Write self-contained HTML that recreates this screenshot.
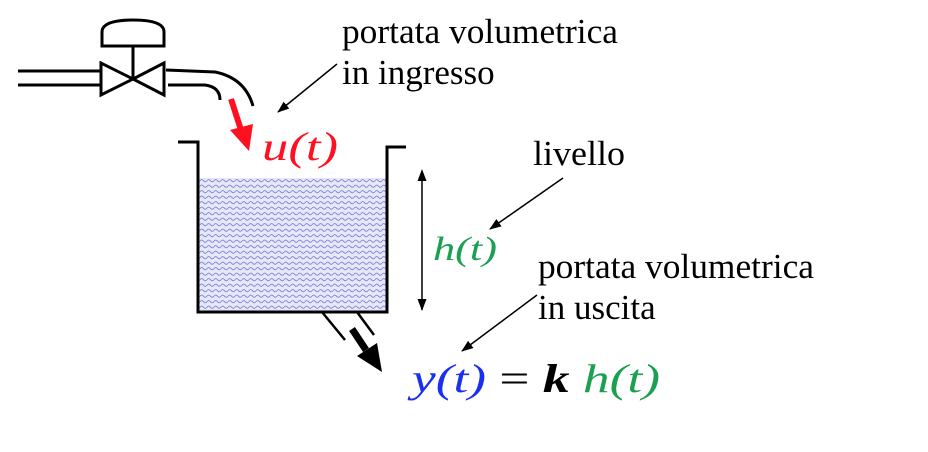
<!DOCTYPE html>
<html><head><meta charset="utf-8"><style>
html,body{margin:0;padding:0;background:#fff;}
svg{display:block;}
text{font-family:"Liberation Serif",serif;}
</style></head><body>
<svg width="928" height="452" viewBox="0 0 928 452" xmlns="http://www.w3.org/2000/svg">
<defs>
<pattern id="waves" x="200" y="178" width="7" height="5.5" patternUnits="userSpaceOnUse">
<path d="M0 2.7 Q1.75 0.5 3.5 2.7 T7 2.7" fill="none" stroke="#5560cc" stroke-width="0.9"/>
</pattern>
<marker id="ah" markerWidth="12" markerHeight="9" refX="11" refY="4.5" orient="auto" markerUnits="userSpaceOnUse"><path d="M0,0 L12,4.5 L0,9 z" fill="#000"/></marker>
<marker id="ahs" markerWidth="12" markerHeight="9" refX="1" refY="4.5" orient="auto-start-reverse" markerUnits="userSpaceOnUse"><path d="M0,0 L12,4.5 L0,9 z" fill="#000"/></marker>
</defs>
<g stroke="#000" stroke-width="3" fill="none">
<line x1="18" y1="71" x2="100" y2="71"/>
<line x1="18" y1="85" x2="100" y2="85"/>
<path d="M166 70 L215 72 Q245 78 253 106"/>
<path d="M168 85 L205 85 Q220 87 220 100"/>
</g>
<g stroke="#000" stroke-width="3" fill="#fff">
<path d="M101 63 L101 95 L133 79 Z"/>
<path d="M164 63 L164 95 L133 79 Z"/>
<line x1="133" y1="79" x2="133" y2="46"/>
<path d="M102 46 L102 32 Q102 20 133 20 Q164 20 164 32 L164 46 Z"/>
</g>
<g>
<line x1="231" y1="99" x2="241" y2="130" stroke="#ff1020" stroke-width="6"/>
<path d="M230 130 L249 151 L253 124 Z" fill="#ff1020"/>
</g>
<text x="262" y="160" font-size="40" font-style="italic" fill="#ff1020" textLength="76" lengthAdjust="spacingAndGlyphs">u(t)</text>
<rect x="199" y="178" width="187" height="134" fill="#e6e8f7"/>
<rect x="199" y="178" width="187" height="134" fill="url(#waves)" opacity="0.75"/>
<path d="M178 142 L198 142 L198 312 L387 312 L387 147 L406 147" fill="none" stroke="#000" stroke-width="3"/>
<g stroke="#000" stroke-width="2.5">
<line x1="322" y1="312" x2="345" y2="340"/>
<line x1="357" y1="312" x2="374" y2="335"/>
</g>
<g>
<line x1="352" y1="329" x2="366" y2="350" stroke="#000" stroke-width="7"/>
<path d="M357 356 L382 372 L377 343 Z" fill="#000"/>
</g>
<line x1="422" y1="180" x2="422" y2="310" stroke="#000" stroke-width="1.5" marker-start="url(#ahs)" marker-end="url(#ah)"/>
<text x="433" y="260" font-size="34" font-style="italic" fill="#1aa050" textLength="64" lengthAdjust="spacingAndGlyphs">h(t)</text>
<text x="342" y="43" font-size="35" fill="#000" textLength="276" lengthAdjust="spacingAndGlyphs">portata volumetrica</text>
<text x="342" y="84" font-size="35" fill="#000">in ingresso</text>
<line x1="337" y1="64" x2="278" y2="112" stroke="#000" stroke-width="1.5" marker-end="url(#ah)"/>
<text x="533" y="165" font-size="35" fill="#000" textLength="92" lengthAdjust="spacingAndGlyphs">livello</text>
<line x1="563" y1="178" x2="490" y2="229" stroke="#000" stroke-width="1.5" marker-end="url(#ah)"/>
<text x="538" y="278" font-size="35" fill="#000" textLength="276" lengthAdjust="spacingAndGlyphs">portata volumetrica</text>
<text x="538" y="319" font-size="35" fill="#000">in uscita</text>
<line x1="537" y1="295" x2="462" y2="351" stroke="#000" stroke-width="1.5" marker-end="url(#ah)"/>
<text x="412" y="392" font-size="40" textLength="248" lengthAdjust="spacingAndGlyphs"><tspan font-style="italic" fill="#1a2ff0">y(t)</tspan><tspan fill="#000"> = </tspan><tspan font-style="italic" font-weight="bold" fill="#000">k</tspan><tspan> </tspan><tspan font-style="italic" fill="#1aa050">h(t)</tspan></text>
</svg>
</body></html>
